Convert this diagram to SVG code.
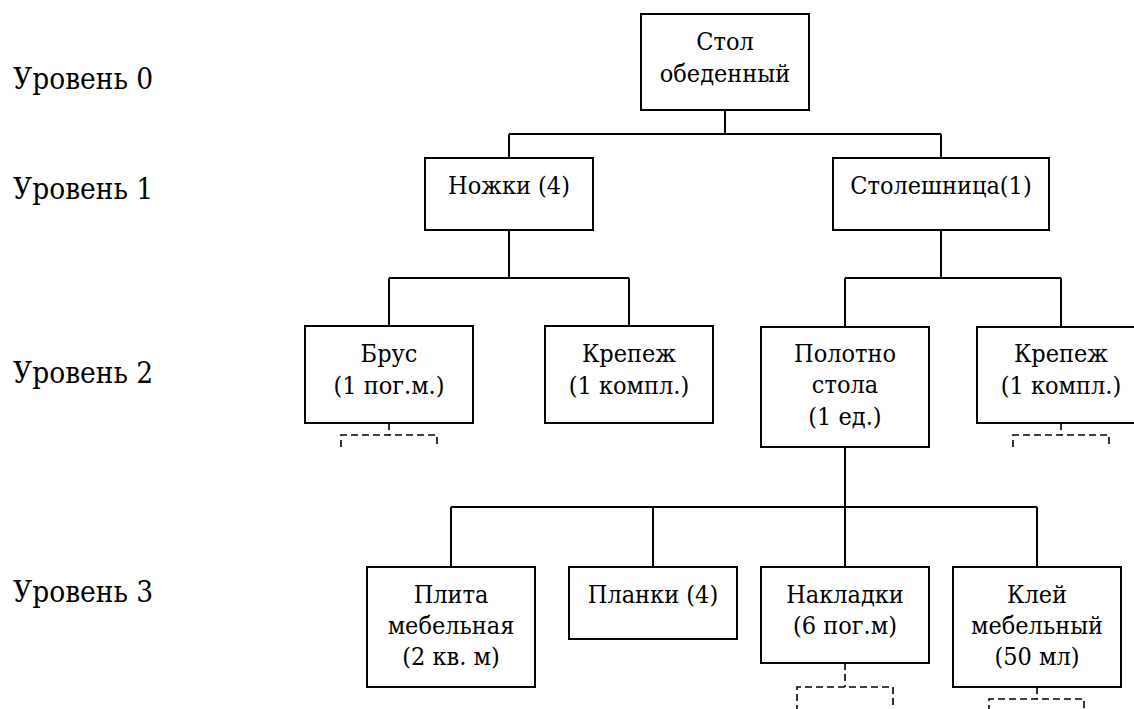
<svg xmlns="http://www.w3.org/2000/svg" width="1134" height="709" viewBox="0 0 1134 709">
<style>
  .box { fill: #ffffff; stroke: #000000; stroke-width: 2; }
  .conn { fill: none; stroke: #000000; stroke-width: 2; }
  .dash { fill: none; stroke: #000000; stroke-width: 1.6; stroke-dasharray: 7 4; }
</style>
<rect x="0" y="0" width="1134" height="709" fill="#ffffff"/>
<g id="levels" font-family="DejaVu Serif Condensed, DejaVu Serif, serif" font-size="29.5" fill="#000000">
  <text x="13" y="89">Уровень 0</text>
  <text x="13" y="199">Уровень 1</text>
  <text x="13" y="383">Уровень 2</text>
  <text x="13" y="602">Уровень 3</text>
</g>
<g id="connectors">
  <path class="conn" d="M725,110 V134 M509,134 H941 M509,134 V158 M941,134 V158"/>
  <path class="conn" d="M509,230 V278 M389,278 H629 M389,278 V326 M629,278 V326"/>
  <path class="conn" d="M941,230 V278 M845,278 H1061 M845,278 V327 M1061,278 V327"/>
  <path class="conn" d="M845,447 V507 M451,507 H1037 M451,507 V567 M653,507 V567 M845,507 V567 M1037,507 V567"/>
  <path class="dash" d="M389,423 V435 M341,447 V435 H437 V447"/>
  <path class="dash" d="M1061,423 V435 M1013,447 V435 H1109 V447"/>
  <path class="dash" d="M845,663 V687 M797,712 V687 H893 V712"/>
  <path class="dash" d="M1037,687 V699 M989,712 V699 H1084 V712"/>
</g>
<g font-family="DejaVu Serif Condensed, DejaVu Serif, serif" font-size="25" fill="#000000" text-anchor="middle">
<g id="n-root">
  <rect class="box" x="641" y="14" width="168" height="96"/>
  <text x="725" y="50">Стол</text>
  <text x="725" y="82">обеденный</text>
</g>
<g id="n-nozhki">
  <rect class="box" x="425" y="158" width="168" height="72"/>
  <text x="509" y="194">Ножки (4)</text>
</g>
<g id="n-stoleshnitsa">
  <rect class="box" x="833" y="158" width="216" height="72"/>
  <text x="941" y="194">Столешница(1)</text>
</g>
<g id="n-brus">
  <rect class="box" x="305" y="326" width="168" height="97"/>
  <text x="389" y="362">Брус</text>
  <text x="389" y="394">(1 пог.м.)</text>
</g>
<g id="n-krepezh1">
  <rect class="box" x="545" y="326" width="168" height="97"/>
  <text x="629" y="362">Крепеж</text>
  <text x="629" y="394">(1 компл.)</text>
</g>
<g id="n-polotno">
  <rect class="box" x="761" y="327" width="168" height="120"/>
  <text x="845" y="362">Полотно</text>
  <text x="845" y="393">стола</text>
  <text x="845" y="425">(1 ед.)</text>
</g>
<g id="n-krepezh2">
  <rect class="box" x="977" y="327" width="168" height="96"/>
  <text x="1061" y="362">Крепеж</text>
  <text x="1061" y="394">(1 компл.)</text>
</g>
<g id="n-plita">
  <rect class="box" x="367" y="567" width="168" height="120"/>
  <text x="451" y="603">Плита</text>
  <text x="451" y="634">мебельная</text>
  <text x="451" y="665">(2 кв. м)</text>
</g>
<g id="n-planki">
  <rect class="box" x="569" y="567" width="168" height="72"/>
  <text x="653" y="603">Планки (4)</text>
</g>
<g id="n-nakladki">
  <rect class="box" x="761" y="567" width="168" height="96"/>
  <text x="845" y="603">Накладки</text>
  <text x="845" y="634">(6 пог.м)</text>
</g>
<g id="n-klei">
  <rect class="box" x="953" y="567" width="168" height="120"/>
  <text x="1037" y="603">Клей</text>
  <text x="1037" y="634">мебельный</text>
  <text x="1037" y="665">(50 мл)</text>
</g>
</g>
</svg>
